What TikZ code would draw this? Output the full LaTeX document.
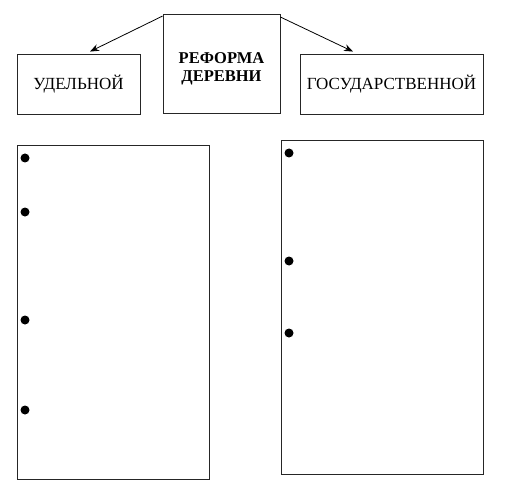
\documentclass[tikz,border=0pt]{standalone}
\usepackage{fontspec}
\setmainfont{Liberation Serif}
\usetikzlibrary{arrows.meta,calc}
\begin{document}
\begin{tikzpicture}[x=1pt,y=-1pt,
  box/.style={draw=black!85,line width=0.9pt,inner sep=0pt,font=\fontsize{17}{19}\selectfont},
  arr/.style={draw=black,line width=0.8pt,-{Stealth[length=9pt,width=7pt]}},
  bullet/.style={circle,fill=black,inner sep=0pt,minimum size=9pt}]
\useasboundingbox (0,0) rectangle (506,500);
\node[box,minimum width=117pt,minimum height=99pt,font=\bfseries\fontsize{16.5}{18}\selectfont] (ref) at (221.5,64) {\raisebox{-5pt}[\height][\depth]{\begin{tabular}{@{}c@{}}РЕФОРМА\\ДЕРЕВНИ\end{tabular}}};
\node[box,minimum width=123pt,minimum height=60pt] (udel) at (78.5,84) {УДЕЛЬНОЙ};
\node[box,minimum width=183pt,minimum height=60pt] (gos) at (391.5,84) {ГОСУДАРСТВЕННОЙ};
\draw[arr] ($(ref.north west)+(0,2)$) -- ($(udel.north)+(11.5,-2)$);
\draw[arr] ($(ref.north east)+(0,3)$) -- ($(gos.north)+(-38.5,-2)$);
\node[box,minimum width=192pt,minimum height=334pt] (lbox) at (113,312) {};
\node[box,minimum width=202pt,minimum height=334pt] (rbox) at (382,307) {};
\node[bullet] (l1) at (25,158) {};
\node[bullet] (l2) at (25,212) {};
\node[bullet] (l3) at (25,320) {};
\node[bullet] (l4) at (25,410) {};
\node[bullet] (r1) at (289,153) {};
\node[bullet] (r2) at (289,261) {};
\node[bullet] (r3) at (289,333) {};
\end{tikzpicture}
\end{document}
